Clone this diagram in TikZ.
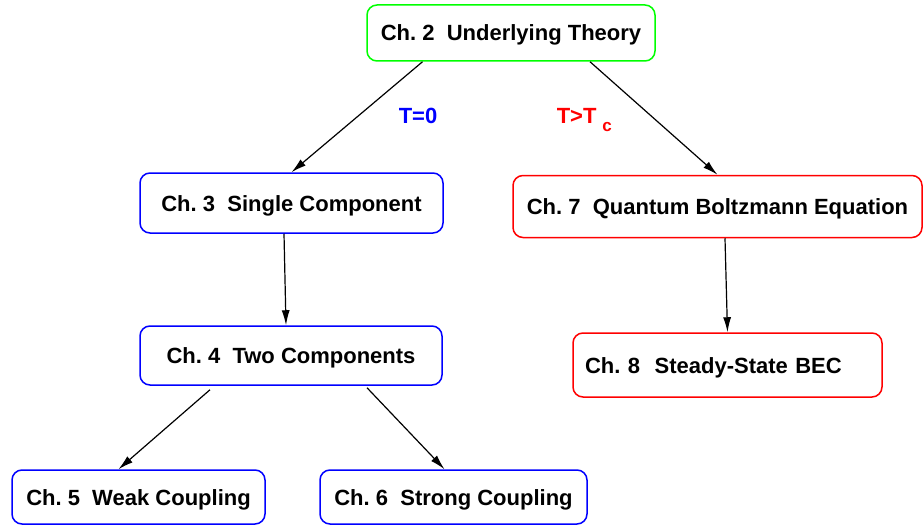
\documentclass[tikz,border=0pt]{standalone}
\usepackage{fontspec}
\setmainfont{Liberation Sans}
\usepackage{tikz}
\usetikzlibrary{arrows.meta}

\begin{document}
\begin{tikzpicture}[x=1pt,y=-1pt]
\useasboundingbox (0,0) rectangle (924,527);
\tikzstyle{every node}=[rounded corners=10pt,line width=1.5pt,inner sep=0pt,text height=16pt,text depth=0pt,font=\fontsize{22}{26}\selectfont\bfseries]
\tikzstyle{arr}=[-{Latex[length=15pt,width=8pt]},line width=1.2pt]
    \node[draw=green,minimum width=288pt,minimum height=56pt](ch2) at (511,33){Ch.~2~~Underlying Theory};
    \node[draw=blue,minimum width=303pt,minimum height=60pt](ch3) at (291.5,203){Ch.~3~~Single Component};
    \node[draw=red,minimum width=409pt,minimum height=62pt](ch7) at (717.5,206.5){Ch.~7~~Quantum Boltzmann Equation};
    \node[draw=blue,minimum width=302pt,minimum height=59pt](ch4) at (291,355.5){Ch.~4~~Two Components};
    \node[draw=red,minimum height=64pt,text width=285pt,align=left,inner xsep=12pt](ch8) at (727.5,365){Ch.~8~~Steady-State BEC};
    \node[draw=blue,minimum width=253pt,minimum height=54pt](ch5) at (138.5,497){Ch.~5~~Weak Coupling};
    \node[draw=blue,minimum width=267pt,minimum height=54pt](ch6) at (453.5,497){Ch.~6~~Strong Coupling};
    % temperature labels
    \node[text=blue,anchor=base west](t0) at (398,124){T=0};
    \node[text=red,anchor=base west](tc) at (556,124){T>T\hspace{6pt}\raisebox{-7pt}{\fontsize{17}{17}\selectfont c}};
    \draw[arr](ch2.198)--(ch3.north);
    \draw[arr](ch2.340)--(ch7.north);
    \draw[arr]([xshift=-7.5pt]ch3.south)--([xshift=-5pt]ch4.north);
    \draw[arr]([xshift=7.5pt]ch7.south)--(ch8.north);
    \draw[arr]([xshift=-81pt,yshift=-4pt]ch4.south)--([xshift=-20pt]ch5.north);
    \draw[arr]([xshift=76pt,yshift=-2pt]ch4.south)--([xshift=-9pt]ch6.north);
\end{tikzpicture}
\end{document}
